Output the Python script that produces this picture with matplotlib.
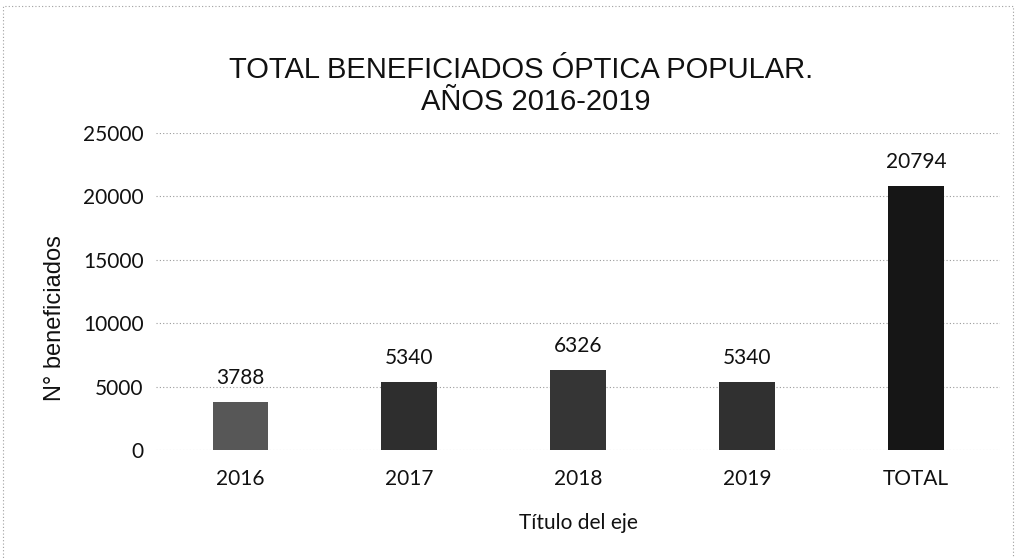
import matplotlib
matplotlib.use("Agg")
import matplotlib.pyplot as plt
from matplotlib.patches import Rectangle

categories = ["2016", "2017", "2018", "2019", "TOTAL"]
beneficiados = [3788, 5340, 6326, 5340, 20794]
bar_colors = ["#575757", "#2e2e2e", "#353535", "#303030", "#161616"]
y_ticks = [0, 5000, 10000, 15000, 20000, 25000]

label_font = ["Lato", "DejaVu Sans"]
title_font = ["Liberation Sans Narrow", "Liberation Sans", "DejaVu Sans"]

fig = plt.figure(figsize=(10.15, 5.58), dpi=100)
ax = fig.add_axes([0.1537, 0.1935, 0.832, 0.568])

x = range(len(categories))
bars = ax.bar(x, beneficiados, width=0.33, color=bar_colors, zorder=3)

for rect, value in zip(bars, beneficiados):
    ax.text(rect.get_x() + rect.get_width() / 2, value + 1100, str(value),
            ha="center", va="bottom", fontsize=15, family=label_font,
            color="#111111")

ax.set_xlim(-0.5, len(categories) - 0.5)
ax.set_ylim(0, 25000)
ax.set_yticks(y_ticks)
ax.set_yticklabels([str(t) for t in y_ticks], family=label_font, fontsize=15)
ax.set_xticks(list(x))
ax.set_xticklabels(categories, family=label_font, fontsize=15)
ax.tick_params(length=0, colors="#111111")
ax.tick_params(axis="y", pad=9)
ax.tick_params(axis="x", pad=14)

ax.yaxis.grid(True, linestyle=(0, (1, 2)), color="#9a9a9a", linewidth=0.8,
              zorder=0)
for side in ax.spines.values():
    side.set_visible(False)

ax.set_ylabel("N° beneficiados", family=["Liberation Sans", "DejaVu Sans"],
              fontsize=17, color="#111111")
ax.yaxis.set_label_coords(-0.106, 0.416)
ax.set_xlabel("Título del eje", family=label_font, fontsize=15, labelpad=17,
              color="#111111")

fig.text(0.513, 0.875, "TOTAL BENEFICIADOS ÓPTICA POPULAR.", ha="center",
         va="center", fontsize=21, family=title_font, color="#111111")
fig.text(0.528, 0.817, "AÑOS 2016-2019", ha="center", va="center",
         fontsize=21, family=title_font, color="#111111")

# dotted frame of the chart area
fig.add_artist(Rectangle((0.003, -0.01), 0.995, 1.0, transform=fig.transFigure,
                         fill=False, linestyle=(0, (1, 2)), edgecolor="#a0a0a0",
                         linewidth=0.8))

fig.savefig("out.png", dpi=100)
